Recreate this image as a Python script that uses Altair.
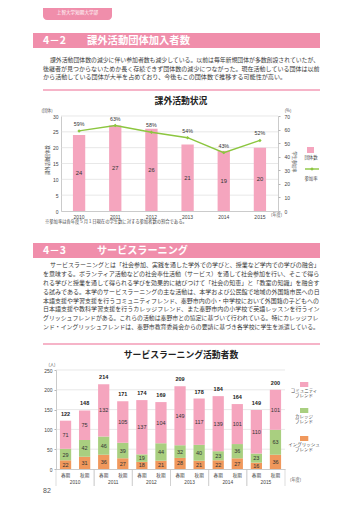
import altair as alt
import pandas as pd

# ---------------- data ----------------
years = ["2010", "2011", "2012", "2013", "2014", "2015"]
clubs = [24, 27, 26, 21, 19, 20]
rates = [59, 63, 58, 54, 43, 52]

periods = ["春期", "秋期"]
english = [22, 31, 36, 27, 18, 21, 28, 21, 22, 27, 16, 36]
college = [29, 42, 46, 39, 19, 44, 32, 40, 23, 36, 23, 63]
community = [71, 75, 132, 105, 137, 104, 149, 117, 139, 101, 110, 101]
series_names = ["イングリッシュフレンド", "カレッジフレンド", "コミュニティフレンド"]

left_ticks1 = [0, 5, 10, 15, 20, 25, 30]
right_ticks1 = [0, 10, 20, 30, 40, 50, 60, 70]
ticks2 = [0, 50, 100, 150, 200, 250]

para1 = [
    "課外活動団体数の減少に伴い参加者数も減少している。以前は毎年新規団体が多数創設されていたが、",
    "後継者が見つからないためか長く存続できず団体数の減少につながった。現在活動している団体は以前",
    "から活動している団体が大半を占めており、今後もこの団体数で推移する可能性が高い。",
]
para2 = [
    "サービスラーニングとは「社会参加、実践を通した学外での学びと、授業など学内での学びの融合」",
    "を意味する。ボランティア活動などの社会奉仕活動（サービス）を通して社会参加を行い、そこで得ら",
    "れる学びと授業を通して得られる学びを効果的に結びつけて「社会の知恵」と「教室の知識」を融合す",
    "る試みである。本学のサービスラーニングの主な活動は、本学および公民館で地域の外国籍市民への日",
    "本語支援や学習支援を行うコミュニティフレンド、秦野市内の小・中学校において外国籍の子どもへの",
    "日本語支援や教科学習支援を行うカレッジフレンド、また秦野市内の小学校で英語レッスンを行うイン",
    "グリッシュフレンドがある。これらの活動は秦野市との協定に基づいて行われている。特にカレッジフレ",
    "ンド・イングリッシュフレンドは、秦野市教育委員会からの要請に基づき各学校に学生を派遣している。",
]

# ---------------- style ----------------
W, H = 344, 493
OFF = 8
JP = "Noto Sans CJK JP"
NUM = "Liberation Sans"
SECTION = "#F08EAB"
DIVIDER = "#F39BB6"
PINK = "#F5A5BE"
GREEN = "#A9CF80"
ORANGE = "#F0985C"
LINE_GREEN = "#8CC63F"
GRID = "#d9d9d9"
AXIS = "#b5b5b5"
TXT = "#333333"


def px(v):
    return v - OFF


def text(s, x, y, size, color=TXT, weight="normal", align="left", font=JP, angle=0):
    return alt.Chart(pd.DataFrame({"t": [s]})).mark_text(
        align=align, baseline="middle", fontSize=size, font=font,
        fontWeight=weight, color=color, angle=angle
    ).encode(text="t:N", x=alt.value(px(x)), y=alt.value(px(y)))


def box(x1, y1, x2, y2, color, r=0):
    if r:
        m = alt.Chart(pd.DataFrame({"t": [0]})).mark_rect(color=color, cornerRadius=r)
    else:
        m = alt.Chart(pd.DataFrame({"t": [0]})).mark_rect(color=color)
    return m.encode(x=alt.value(px(x1)), x2=alt.value(px(x2)),
                    y=alt.value(px(y1)), y2=alt.value(px(y2)))


def hline(x1, x2, y, color, w):
    return alt.Chart(pd.DataFrame({"t": [0]})).mark_rule(color=color, strokeWidth=w).encode(
        x=alt.value(px(x1)), x2=alt.value(px(x2)), y=alt.value(px(y)))


layers = []

# ---------------- page furniture ----------------
layers.append(box(43, -4, 112, 20, SECTION, r=4))
layers.append(text("上智大学短期大学部", 77.5, 13, 4.6, color="white", align="center"))

# section 4-2
layers.append(box(33, 33, 320, 48, SECTION))
layers.append(text("4－2", 43, 40.8, 10.5, color="white", weight="bold"))
layers.append(text("課外活動団体加入者数", 87, 40.8, 10.3, color="white", weight="bold"))


def paragraph(lines, y0, step):
    out = []
    for i, line in enumerate(lines):
        x0 = 50 if i == 0 else 43
        width = 320 - x0
        if i == len(lines) - 1 and len(line) < 40:
            fs = 5.9
        else:
            fs = min(6.1, width / len(line))
        out.append(text(line, x0, y0 + i * step, fs, color="#3a3a3a"))
    return out


layers += paragraph(para1, 60.2, 8.5)
layers.append(hline(43, 320, 90, DIVIDER, 1.3))
layers.append(text("課外活動状況", 181, 101, 8.8, color="#222", weight="bold", align="center"))

# ---------------- chart 1 ----------------
df1 = pd.DataFrame({"year": years, "clubs": clubs, "rate": rates})
xs1 = alt.Scale(domain=years, range=[px(61), px(278)], paddingInner=0.66, paddingOuter=0.33)
ys1 = alt.Scale(domain=[0, 30], range=[px(211), px(116)], nice=False)
yr1 = alt.Scale(domain=[0, 70], range=[px(211), px(116)], nice=False)

grid1 = alt.Chart(pd.DataFrame({"v": left_ticks1[1:]})).mark_rule(color=GRID, strokeWidth=0.6).encode(
    y=alt.Y("v:Q", scale=ys1, axis=None), x=alt.value(px(61)), x2=alt.value(px(278)))
layers.append(grid1)

base1 = alt.Chart(df1)
bars1 = base1.mark_bar(color=PINK).encode(
    x=alt.X("year:N", scale=xs1, sort=years,
            axis=alt.Axis(orient="bottom", offset=px(211) - H, labelFont=NUM, labelFontSize=5,
                          labelColor="#444", labelPadding=3, ticks=False, domainColor=AXIS,
                          domainWidth=0.7, title=None, labelAngle=0, grid=False)),
    y=alt.Y("clubs:Q", scale=ys1,
            axis=alt.Axis(orient="left", offset=-px(61), values=left_ticks1, labelFont=NUM,
                          labelFontSize=5, labelColor="#444", labelPadding=3, ticks=False,
                          domainColor=AXIS, domainWidth=0.7, title=None, grid=False)),
)
layers.append(bars1)

bar_lbl1 = base1.transform_calculate(mid="datum.clubs / 2").mark_text(
    font=NUM, fontSize=5.8, color=TXT, baseline="middle").encode(
    x=alt.X("year:N", scale=xs1, axis=None),
    y=alt.Y("mid:Q", scale=ys1, axis=None),
    text="clubs:Q")
layers.append(bar_lbl1)

line1 = base1.mark_line(color=LINE_GREEN, strokeWidth=1.4).encode(
    x=alt.X("year:N", scale=xs1, axis=None),
    y=alt.Y("rate:Q", scale=yr1,
            axis=alt.Axis(orient="right", offset=px(278) - W, values=right_ticks1, labelFont=NUM,
                          labelFontSize=5, labelColor="#444", labelPadding=4, ticks=True,
                          tickSize=2, tickColor=AXIS, domainColor=AXIS, domainWidth=0.7,
                          title=None, grid=False)),
)
layers.append(line1)
pts1 = base1.mark_point(shape="diamond", filled=True, size=12, color=LINE_GREEN, opacity=1).encode(
    x=alt.X("year:N", scale=xs1, axis=None),
    y=alt.Y("rate:Q", scale=yr1, axis=None))
layers.append(pts1)
rate_lbl = base1.transform_calculate(lbl="datum.rate + '%'").mark_text(
    font=NUM, fontSize=5.3, color=TXT, baseline="middle", dy=-7).encode(
    x=alt.X("year:N", scale=xs1, axis=None),
    y=alt.Y("rate:Q", scale=yr1, axis=None),
    text="lbl:N")
layers.append(rate_lbl)

layers.append(text("(団体)", 47, 110.5, 4.2, color="#555", align="center"))
layers.append(text("(%)", 288, 110.5, 4.2, color="#555", align="center"))
layers.append(text("課外活動団体数", 48, 160, 4.2, color="#444", align="center", angle=270))
layers.append(text("学生参加率", 294, 162, 4.2, color="#444", align="center", angle=90))
layers.append(text("(年度)", 271, 214.5, 4.2, color="#555"))

# legend 1
layers.append(box(307, 147, 314, 153, PINK))
layers.append(text("団体数", 311, 158, 4.4, color="#444", align="center"))
layers.append(hline(305, 319, 169, LINE_GREEN, 1.4))
layers.append(alt.Chart(pd.DataFrame({"t": [0]})).mark_point(
    shape="diamond", filled=True, size=12, color=LINE_GREEN, opacity=1).encode(
    x=alt.value(px(312)), y=alt.value(px(169))))
layers.append(text("参加率", 311, 179, 4.4, color="#444", align="center"))

layers.append(text("※参加率は各年度５月１日現在の学生数に対する参加者数の割合である。", 45, 222, 4.3, color="#444"))

# section 4-3
layers.append(box(33, 243, 320, 258, SECTION))
layers.append(text("4－3", 43, 250.8, 10.5, color="white", weight="bold"))
layers.append(text("サービスラーニング", 97, 250.8, 10.1, color="white", weight="bold"))
layers += paragraph(para2, 265.2, 8.85)
layers.append(hline(43, 320, 344, DIVIDER, 1.3))
layers.append(text("サービスラーニング活動者数", 181, 355, 8.8, color="#222", weight="bold", align="center"))

# ---------------- chart 2 ----------------
keys = [f"{y}|{p}" for y in years for p in periods]
rows = []
for i, k in enumerate(keys):
    for o, (name, vals) in enumerate(zip(series_names, [english, college, community])):
        rows.append({"key": k, "series": name, "value": vals[i], "ord": o})
df2 = pd.DataFrame(rows)
tot = pd.DataFrame({"key": keys,
                    "total": [a + b + c for a, b, c in zip(english, college, community)]})

xs2 = alt.Scale(domain=keys, range=[px(56), px(285)], paddingInner=0.41, paddingOuter=0.205)
ys2 = alt.Scale(domain=[0, 250], range=[px(469), px(370)], nice=False)
yrs2 = alt.Scale(domain=years, range=[px(56), px(285)], paddingInner=0, paddingOuter=0)

grid2 = alt.Chart(pd.DataFrame({"v": ticks2[1:]})).mark_rule(color=GRID, strokeWidth=0.6).encode(
    y=alt.Y("v:Q", scale=ys2, axis=None), x=alt.value(px(56)), x2=alt.value(px(285)))
layers.append(grid2)

stacked = alt.Chart(df2).transform_stack(
    stack="value", groupby=["key"], as_=["v0", "v1"],
    sort=[alt.SortField("ord", order="ascending")])

bars2 = stacked.mark_bar().encode(
    x=alt.X("key:N", scale=xs2, sort=keys,
            axis=alt.Axis(orient="bottom", offset=px(469) - H, labelFont=JP, labelFontSize=4.6,
                          labelColor="#444", labelPadding=3, ticks=False, domainColor=AXIS,
                          domainWidth=0.7, title=None, labelAngle=0, grid=False,
                          labelExpr="split(datum.label, '|')[1]")),
    y=alt.Y("v0:Q", scale=ys2,
            axis=alt.Axis(orient="left", offset=-px(56), values=ticks2, labelFont=NUM,
                          labelFontSize=5, labelColor="#444", labelPadding=2, ticks=True,
                          tickSize=2, tickColor=AXIS, domainColor=AXIS, domainWidth=0.7,
                          title=None, grid=False)),
    y2="v1:Q",
    color=alt.Color("series:N", scale=alt.Scale(domain=series_names, range=[ORANGE, GREEN, PINK]),
                    legend=None),
)
layers.append(bars2)

seg_lbl = stacked.transform_calculate(mid="(datum.v0 + datum.v1) / 2").mark_text(
    font=NUM, fontSize=5.5, color=TXT, baseline="middle").encode(
    x=alt.X("key:N", scale=xs2, axis=None),
    y=alt.Y("mid:Q", scale=ys2, axis=None),
    text="value:Q")
layers.append(seg_lbl)

tot_lbl = alt.Chart(tot).mark_text(font=NUM, fontSize=5.5, color="#222", fontWeight="bold",
                                   baseline="middle", dy=-7).encode(
    x=alt.X("key:N", scale=xs2, axis=None),
    y=alt.Y("total:Q", scale=ys2, axis=None),
    text="total:Q")
layers.append(tot_lbl)

dfy = pd.DataFrame({"year": years})
year_lbl = alt.Chart(dfy).mark_text(font=NUM, fontSize=4.8, color="#444", baseline="middle").encode(
    x=alt.X("year:N", scale=yrs2, axis=None), y=alt.value(px(482.5)), text="year:N")
layers.append(year_lbl)
for bp in (0, 1):
    layers.append(alt.Chart(dfy).mark_rule(color="#c8c8c8", strokeWidth=0.6).encode(
        x=alt.X("year:N", scale=yrs2, axis=None, bandPosition=bp),
        y=alt.value(px(469)), y2=alt.value(px(486))))

layers.append(text("(人)", 52, 364.5, 4.2, color="#555", align="center"))
layers.append(text("(年度)", 290, 480, 4.2, color="#555"))

# legend 2
leg = [("コミュニティ", "フレンド", PINK, 382), ("カレッジ", "フレンド", GREEN, 408),
       ("イングリッシュ", "フレンド", ORANGE, 436)]
for l1, l2, col, y in leg:
    layers.append(box(300, y, 308.3, y + 5, col))
    layers.append(text(l1, 304, y + 8.5, 4.5, color="#444", align="center"))
    layers.append(text(l2, 304, y + 13.5, 4.5, color="#444", align="center"))

layers.append(text("82", 43, 491, 7, color="#555", font=NUM))

chart = alt.layer(*layers).properties(
    width=W, height=H, autosize=alt.AutoSizeParams(type="none"), padding=0
).resolve_scale(x="independent", y="independent").configure_view(stroke=None)

chart.save("out.html", embed_options={"renderer": "svg", "actions": False})
